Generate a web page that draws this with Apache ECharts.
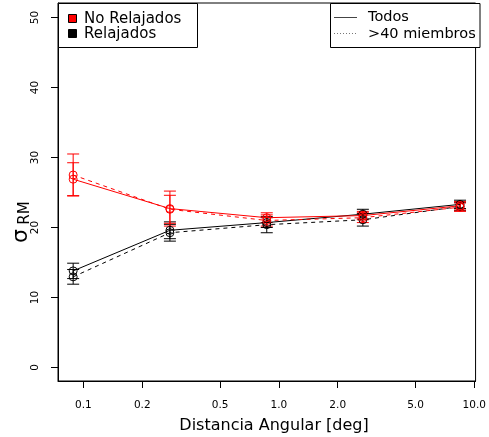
<!DOCTYPE html>
<html>
<head>
<meta charset="utf-8">
<script src="https://cdn.jsdelivr.net/npm/echarts@6/dist/echarts.min.js"></script>
<style>
html, body { margin: 0; padding: 0; background: #fff; }
#chart { width: 489px; height: 437px; }
</style>
</head>
<body>
<div id="chart"></div>
<script>
// Angular distance bins (deg)
const distances = [0.0886, 0.277, 0.867, 2.69, 8.45];

// Axis ticks
const xTickValues = [0.1, 0.2, 0.5, 1, 2, 5, 10];
const xTickLabels = ['0.1', '0.2', '0.5', '1.0', '2.0', '5.0', '10.0'];
const yTickValues = [0, 10, 20, 30, 40, 50];

// sigma_RM, non-relaxed groups
const noRelajadosTodos = [26.9, 22.7, 21.4, 21.7, 23.1];
const noRelajadosTodosErr = [2.35, 2.5, 0.7, 0.6, 0.6];
const noRelajados40 = [27.5, 22.6, 21.0, 21.4, 22.9];
const noRelajados40Err = [3.0, 2.0, 0.8, 0.7, 0.6];

// sigma_RM, relaxed groups
const relajadosTodos = [13.8, 19.6, 20.7, 21.9, 23.3];
const relajadosTodosErr = [1.1, 1.2, 0.7, 0.7, 0.6];
const relajados40 = [12.95, 19.25, 20.4, 21.1, 23.0];
const relajados40Err = [1.05, 1.2, 1.15, 0.9, 0.6];

const FONT = 'DejaVu Sans';
const log10 = Math.log10;

function lineSeries(values, color, dashed) {
  return {
    type: 'line',
    data: values.map((v, i) => [log10(distances[i]), v]),
    symbol: 'circle',
    symbolSize: 8,
    lineStyle: { color: color, width: 1, type: dashed ? [4, 4] : 'solid' },
    itemStyle: { color: 'rgba(0,0,0,0)', borderColor: color, borderWidth: 1 },
    silent: true,
    z: 4
  };
}

function errorSeries(values, errs, color) {
  return {
    type: 'custom',
    data: values.map((v, i) => [log10(distances[i]), v - errs[i], v + errs[i]]),
    encode: { x: 0, y: [1, 2] },
    renderItem: function (params, api) {
      const lo = api.coord([api.value(0), api.value(1)]);
      const hi = api.coord([api.value(0), api.value(2)]);
      const w = 6;
      const st = { stroke: color, lineWidth: 1 };
      return {
        type: 'group',
        children: [
          { type: 'line', shape: { x1: lo[0], y1: lo[1], x2: hi[0], y2: hi[1] }, style: st },
          { type: 'line', shape: { x1: lo[0] - w, y1: lo[1], x2: lo[0] + w, y2: lo[1] }, style: st },
          { type: 'line', shape: { x1: hi[0] - w, y1: hi[1], x2: hi[0] + w, y2: hi[1] }, style: st }
        ]
      };
    },
    silent: true,
    z: 3
  };
}

function xLabel(v) {
  for (let i = 0; i < xTickValues.length; i++) {
    if (Math.abs(log10(xTickValues[i]) - v) < 1e-6) return xTickLabels[i];
  }
  return '';
}

const chart = echarts.init(document.getElementById('chart'), null, { renderer: 'canvas' });

chart.setOption({
  animation: false,
  backgroundColor: '#fff',
  grid: {
    left: 58, right: 9, top: 3, bottom: 56,
    show: true, borderColor: '#000', borderWidth: 1, backgroundColor: 'transparent'
  },
  xAxis: {
    type: 'value',
    min: log10(0.0741),
    max: log10(10.15),
    axisLine: { show: true, onZero: false, lineStyle: { color: '#000', width: 1 } },
    axisTick: { show: true, length: 7, customValues: xTickValues.map(log10), lineStyle: { color: '#000' } },
    axisLabel: {
      customValues: xTickValues.map(log10),
      formatter: xLabel,
      color: '#000', fontFamily: FONT, fontSize: 10.5, margin: 19
    },
    splitLine: { show: false }
  },
  yAxis: {
    type: 'value',
    min: -1.93,
    max: 52.07,
    axisLine: { show: true, onZero: false, lineStyle: { color: '#000', width: 1 } },
    axisTick: { show: true, length: 7, customValues: yTickValues, lineStyle: { color: '#000' } },
    axisLabel: {
      customValues: yTickValues,
      rotate: 90,
      color: '#000', fontFamily: FONT, fontSize: 10.5, margin: 17
    },
    splitLine: { show: false }
  },
  series: [
    errorSeries(relajadosTodos, relajadosTodosErr, '#000'),
    errorSeries(relajados40, relajados40Err, '#000'),
    lineSeries(relajadosTodos, '#000', false),
    lineSeries(relajados40, '#000', true),
    errorSeries(noRelajadosTodos, noRelajadosTodosErr, '#ff0000'),
    errorSeries(noRelajados40, noRelajados40Err, '#ff0000'),
    lineSeries(noRelajadosTodos, '#ff0000', false),
    lineSeries(noRelajados40, '#ff0000', true)
  ],
  graphic: [
    // colour legend
    { type: 'rect', shape: { x: 58.5, y: 3.5, width: 139, height: 44 },
      style: { fill: '#fff', stroke: '#000', lineWidth: 1 }, z: 10 },
    { type: 'rect', shape: { x: 68.5, y: 14.5, width: 8, height: 8 },
      style: { fill: '#ff0000', stroke: '#000', lineWidth: 1 }, z: 11 },
    { type: 'rect', shape: { x: 68.5, y: 29.5, width: 8, height: 8 },
      style: { fill: '#000', stroke: '#000', lineWidth: 1 }, z: 11 },
    { type: 'text', x: 84, y: 19, z: 11,
      style: { text: 'No Relajados', fill: '#000', font: '15px "DejaVu Sans"', verticalAlign: 'middle' } },
    { type: 'text', x: 84, y: 34, z: 11,
      style: { text: 'Relajados', fill: '#000', font: '15px "DejaVu Sans"', verticalAlign: 'middle' } },
    // line style legend
    { type: 'rect', shape: { x: 330.5, y: 3.5, width: 149.5, height: 44 },
      style: { fill: '#fff', stroke: '#000', lineWidth: 1 }, z: 10 },
    { type: 'line', shape: { x1: 334, y1: 17.5, x2: 357, y2: 17.5 },
      style: { stroke: '#444', lineWidth: 1 }, z: 11 },
    { type: 'line', shape: { x1: 334, y1: 33.5, x2: 357, y2: 33.5 },
      style: { stroke: '#777', lineWidth: 1, lineDash: [1, 2] }, z: 11 },
    { type: 'text', x: 368, y: 17, z: 11,
      style: { text: 'Todos', fill: '#000', font: '14.5px "DejaVu Sans"', verticalAlign: 'middle' } },
    { type: 'text', x: 368, y: 34, z: 11,
      style: { text: '>40 miembros', fill: '#000', font: '14.5px "DejaVu Sans"', verticalAlign: 'middle' } },
    // axis titles
    { type: 'text', x: 274, y: 426, z: 11,
      style: { text: 'Distancia Angular [deg]', fill: '#000', font: '16px "DejaVu Sans"', align: 'center', verticalAlign: 'middle' } },
    { type: 'text', x: 21, y: 236, rotation: Math.PI / 2, z: 11,
      style: { text: 'σ', fill: '#000', font: '22px "DejaVu Sans"', align: 'center', verticalAlign: 'middle' } },
    { type: 'text', x: 25, y: 213, rotation: Math.PI / 2, z: 11,
      style: { text: 'RM', fill: '#000', font: '15px "DejaVu Sans"', align: 'center', verticalAlign: 'middle' } }
  ]
});
</script>
</body>
</html>
